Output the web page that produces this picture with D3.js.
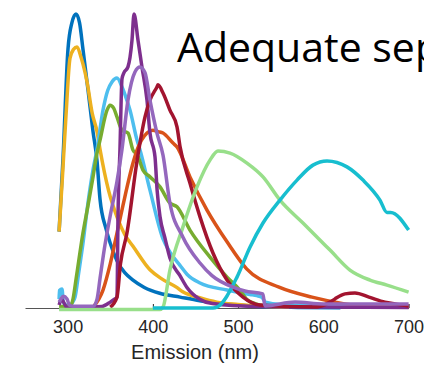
<!DOCTYPE html>
<html>
<head>
<meta charset="utf-8">
<script src="https://cdn.jsdelivr.net/npm/d3@7"></script>
<style>
  html, body { margin: 0; padding: 0; background: #fff; overflow: hidden; }
  svg { display: block; }
</style>
</head>
<body>
<svg id="chart" width="424" height="368"></svg>
<script>
// ---- Data (wavelength nm, relative intensity) ----
const titleText = "Adequate separation";
const xLabel = "Emission (nm)";
const xTicks = [300, 400, 500, 600, 700];

const blue = [[290,0.26],[294.6,0.51],[300.4,0.88],[305,0.97],[309.8,1.0],[314,0.97],[318,0.88],[324,0.74],[329.8,0.60],[334.5,0.50],[338,0.37],[345,0.27],[350,0.22],[358,0.16],[367,0.12],[376.7,0.095],[390,0.07],[408,0.05],[432,0.037],[455,0.025],[479,0.015],[510,0.008],[540,0.004],[570,0.002],[620,0.001]];
const yellow = [[290,0.26],[294,0.45],[298,0.65],[302.8,0.85],[307,0.88],[311,0.888],[316,0.85],[322.7,0.77],[329,0.66],[334.5,0.60],[338,0.54],[348,0.40],[357.9,0.31],[367,0.25],[376.7,0.21],[396.6,0.13],[410,0.10],[428,0.07],[435,0.055],[455,0.035],[475,0.02],[500,0.012],[530,0.006],[560,0.003]];
const lightBlue = [[290,0.03],[290.5,0.06],[293.4,0.065],[295,0.02],[298,0.01],[303,0.01],[306,0.02],[308.7,0.037],[313,0.12],[318,0.22],[324,0.36],[329.8,0.47],[334.5,0.54],[341.5,0.673],[347,0.74],[352,0.769],[357.9,0.782],[363.8,0.752],[368,0.72],[373.2,0.673],[381.4,0.571],[385,0.537],[396.6,0.401],[411.9,0.235],[420,0.19],[431.8,0.145],[440,0.115],[455.3,0.085],[487,0.061],[513.9,0.046],[522,0.042],[528,0.036],[532,0.02],[550,0.012],[600,0.009],[700,0.005]];
const green = [[290,0.005],[303,0.005],[306.3,0.03],[310,0.1],[318,0.255],[324,0.35],[329.8,0.446],[334,0.52],[338,0.571],[346.2,0.673],[349.7,0.69],[354,0.68],[357.9,0.65],[363.8,0.605],[370.8,0.595],[376.7,0.537],[382,0.52],[388.4,0.469],[396.6,0.446],[408.4,0.412],[420,0.357],[428.3,0.344],[443.5,0.265],[467,0.173],[487,0.105],[502,0.061],[510,0.03],[520,0.015],[540,0.005]];
const darkPurple = [[290,0.01],[293,0.03],[297,0.01],[300,0.0],[340,0.005],[350,0.02],[355,0.03],[357.9,0.037],[359.1,0.31],[361.4,0.54],[363.8,0.78],[366,0.80],[370.8,0.82],[375.5,0.91],[377.9,1.0],[382.6,0.91],[387.2,0.82],[393.1,0.707],[396.6,0.595],[402.5,0.514],[405,0.40],[408.4,0.31],[414,0.24],[420,0.17],[431.8,0.11],[440,0.07],[455,0.03],[470,0.015],[520,0.005],[600,0.003],[700,0.002]];
const orange = [[330,0.003],[341.5,0.061],[350,0.15],[357.9,0.255],[365,0.35],[376.7,0.493],[381.4,0.537],[393.1,0.595],[400.1,0.605],[406,0.60],[411.9,0.595],[423.6,0.561],[428.3,0.548],[443.5,0.446],[463.5,0.333],[487,0.225],[510,0.133],[548,0.071],[586.7,0.037],[625,0.014],[650,0.005],[700,0.003]];
const darkRed = [[350,0.003],[357.9,0.037],[362,0.15],[369.6,0.255],[381.4,0.50],[390.8,0.65],[396.6,0.707],[404.8,0.752],[406,0.759],[411.9,0.731],[420,0.673],[428.3,0.616],[431.8,0.55],[443.5,0.425],[455.3,0.31],[470.5,0.187],[487,0.095],[505.7,0.037],[525.7,0.01],[587.8,0.003],[607.8,0.02],[613.6,0.031],[625.4,0.048],[637.1,0.051],[653.5,0.037],[672.3,0.02],[684,0.014],[700,0.007]];
const lilac = [[290,0.02],[292,0.03],[295,0.04],[299.3,0.031],[302,0.01],[306,0.006],[330,0.006],[334.5,0.03],[338,0.10],[343,0.2],[349.7,0.31],[357.9,0.43],[363.8,0.54],[370.8,0.707],[379,0.803],[384.9,0.82],[390.8,0.80],[396.6,0.707],[404.8,0.595],[411.9,0.52],[420,0.357],[435.3,0.241],[455.3,0.153],[469.4,0.11],[494,0.071],[508,0.058],[529,0.048],[531.5,0.007],[566.7,0.02],[600,0.014],[700,0.014]];
const lightGreen = [[290,-0.005],[408,-0.005],[411.9,0.003],[420,0.129],[435.3,0.276],[451.8,0.412],[467,0.503],[476.4,0.534],[490.5,0.527],[510.4,0.493],[529.2,0.446],[549.1,0.367],[576.1,0.289],[607.8,0.197],[631.2,0.129],[654.7,0.095],[674.6,0.078],[700,0.054]];
const cyan = [[400,0],[470.5,0],[475.2,0.003],[498.7,0.105],[513.9,0.207],[529.2,0.289],[549.1,0.367],[569.1,0.435],[587.8,0.486],[604.3,0.5],[627.7,0.48],[646.5,0.435],[666.4,0.367],[674.6,0.325],[679,0.325],[700,0.265]];

const seriesList = [
  {name: "blue", values: blue, color: "#0072BD"},
  {name: "yellow", values: yellow, color: "#EDB120"},
  {name: "lightBlue", values: lightBlue, color: "#4DBEEE"},
  {name: "green", values: green, color: "#77AC30"},
  {name: "orange", values: orange, color: "#D95319"},
  {name: "darkPurple", values: darkPurple, color: "#7E2F8E"},
  {name: "darkRed", values: darkRed, color: "#A2142F"},
  {name: "lightGreen", values: lightGreen, color: "#98DF8A"},
  {name: "cyan", values: cyan, color: "#17BECF"},
  {name: "lilac", values: lilac, color: "#9467BD"}
];

// ---- Layout ----
const svg = d3.select("#chart");
const x = d3.scaleLinear().domain([250, 700]).range([25, 408.6]);
const y = d3.scaleLinear().domain([0, 1]).range([308, 14]);

const line = d3.line()
  .x(d => x(d[0]))
  .y(d => y(d[1]))
  .curve(d3.curveMonotoneX);

// axis
const axis = svg.append("g")
  .attr("transform", `translate(0,${y(0)})`)
  .call(d3.axisBottom(x).tickValues(xTicks).tickSizeInner(-4).tickSizeOuter(0).tickPadding(12));
axis.select(".domain").attr("stroke", "#555").attr("stroke-width", 1);
axis.selectAll(".tick line").attr("stroke", "#262626");
axis.selectAll(".tick text")
  .attr("fill", "#262626")
  .style("font-family", "'Liberation Sans', Arial, Helvetica, sans-serif")
  .style("font-size", "18px");

// series
svg.append("g").selectAll("path")
  .data(seriesList)
  .join("path")
  .attr("d", d => line(d.values))
  .attr("fill", "none")
  .attr("stroke", d => d.color)
  .attr("stroke-width", 3.5)
  .attr("stroke-linejoin", "round")
  .attr("stroke-linecap", "butt");

// x label
svg.append("text")
  .attr("x", 195)
  .attr("y", 359)
  .attr("text-anchor", "middle")
  .attr("fill", "#262626")
  .style("font-family", "'Liberation Sans', Arial, Helvetica, sans-serif")
  .style("font-size", "20px")
  .text(xLabel);

// title
svg.append("text")
  .attr("x", 177)
  .attr("y", 62)
  .attr("fill", "#000")
  .style("font-family", "'Open Sans', 'Noto Sans', sans-serif")
  .style("font-size", "41px")
  .text(titleText);
</script>
</body>
</html>
